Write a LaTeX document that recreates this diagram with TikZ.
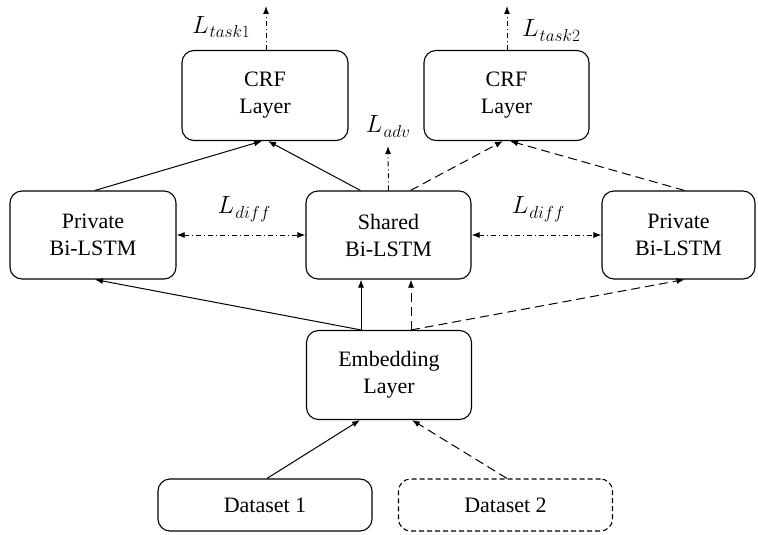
\documentclass[tikz,border=0pt]{standalone}
\usepackage{fontspec}
\setmainfont{Liberation Serif}
\usetikzlibrary{arrows.meta,calc}
\newcommand{\lossl}[1]{$L$\kern1pt\raisebox{-5pt}{\fontsize{18}{18}\selectfont$#1$}}
\begin{document}
\begin{tikzpicture}[x=1pt,y=-1pt,
  box/.style={draw,line width=1.1pt,rounded corners=12pt,align=center,
    font=\fontsize{22}{27}\selectfont,inner sep=0pt},
  conn/.style={line width=1pt,-{Latex[length=8pt,width=6pt]}},
  dsh/.style={conn,dash pattern=on 9pt off 5pt},
  dd/.style={line width=1pt,dash pattern=on 5pt off 3pt on 1pt off 3pt},
  lbl/.style={font=\fontsize{25}{30}\selectfont,inner sep=0pt}]
\useasboundingbox (0,0) rectangle (758,535);
\node[box,minimum width=166pt,minimum height=90pt] (crf1) at (265,95.5) {CRF\\Layer};
\node[box,minimum width=165pt,minimum height=90pt] (crf2) at (506.5,95.5) {CRF\\Layer};
\node[box,minimum width=166pt,minimum height=88pt] (priv1) at (93,235) {Private\\Bi-LSTM};
\node[box,minimum width=165pt,minimum height=88pt] (shared) at (388.5,235) {Shared\\Bi-LSTM};
\node[box,minimum width=153pt,minimum height=88pt] (priv2) at (678.5,235) {Private\\Bi-LSTM};
\node[box,minimum width=165pt,minimum height=89pt] (emb) at (389,375) {Embedding\\Layer};
\node[box,minimum width=214pt,minimum height=52pt] (ds1) at (265,505) {Dataset 1};
\node[box,dash pattern=on 5pt off 3pt,minimum width=214pt,minimum height=52pt] (ds2) at (505.5,505) {Dataset 2};
% output coordinates
\coordinate (t1) at (266,6);
\coordinate (t2) at (507,6);
\coordinate (ta) at (388,146);
\node[lbl] (lt1) at (221,27) {\lossl{task1}};
\node[lbl] (lt2) at (551,30) {\lossl{task2}};
\node[lbl] (la) at (388,126) {\lossl{adv}};
\node[lbl] (ld1) at (244,209) {\lossl{diff}};
\node[lbl] (ld2) at (538,209) {\lossl{diff}};
% loss arrows
\draw[dd,-{Latex[length=8pt,width=6pt]}] ([xshift=1pt]crf1.north) -- (t1);
\draw[dd,-{Latex[length=8pt,width=6pt]}] ([xshift=0.5pt]crf2.north) -- (t2);
\draw[dd,-{Latex[length=8pt,width=6pt]}] (shared.north) -- (ta);
\draw[dd,{Latex[length=8pt,width=6pt]}-{Latex[length=8pt,width=6pt]}] (priv1.east) -- (shared.west);
\draw[dd,{Latex[length=8pt,width=6pt]}-{Latex[length=8pt,width=6pt]}] (shared.east) -- (priv2.west);
% to CRF
\draw[conn] ([xshift=2pt]priv1.north) -- ([xshift=-3pt]crf1.south);
\draw[conn] ([xshift=-28pt]shared.north) -- ([xshift=3pt]crf1.south);
\draw[dsh] ([xshift=22pt]shared.north) -- ([xshift=-3.5pt]crf2.south);
\draw[dsh] ([xshift=6pt]priv2.north) -- ([xshift=3.5pt]crf2.south);
% from embedding
\draw[conn] ([xshift=-28pt]emb.north) -- ([xshift=-27.5pt]shared.south);
\draw[dsh] ([xshift=22pt]emb.north) -- ([xshift=22.5pt]shared.south);
\draw[conn] ([xshift=-28pt]emb.north) -- ([xshift=2pt]priv1.south);
\draw[dsh] ([xshift=22pt]emb.north) -- ([xshift=6pt]priv2.south);
% datasets
\draw[conn] ([xshift=2pt]ds1.north) -- ([xshift=-29pt]emb.south);
\draw[dsh] ([xshift=1.5pt]ds2.north) -- ([xshift=23pt]emb.south);
\end{tikzpicture}
\end{document}
